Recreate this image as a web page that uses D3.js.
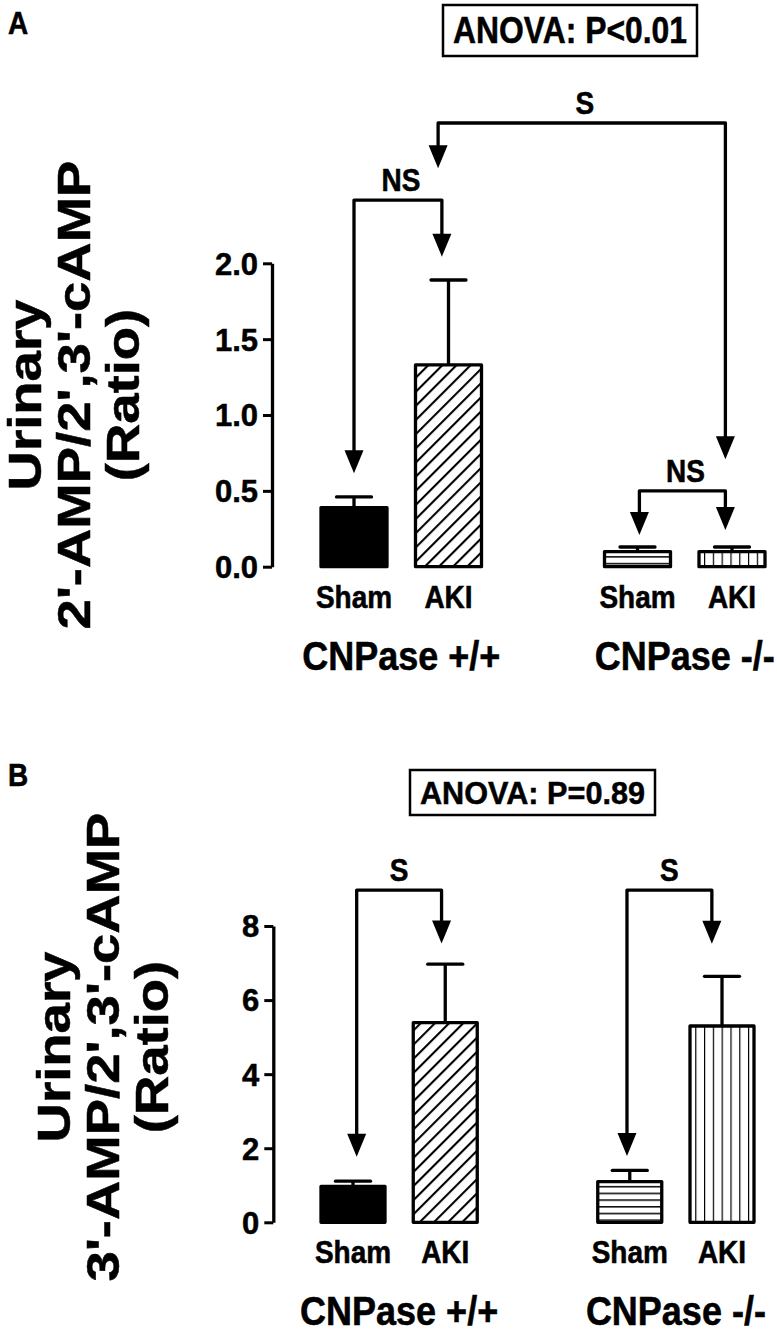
<!DOCTYPE html>
<html><head><meta charset="utf-8">
<script src="https://cdn.jsdelivr.net/npm/d3@7"></script>
<style>
body{margin:0;background:#fff}
text{font-family:"Liberation Sans",Arial,Helvetica,sans-serif;font-weight:bold;fill:#000;stroke:#000;stroke-width:0.5px}
</style>
</head><body>
<svg id="c" width="777" height="1334"></svg>
<script>
// ---------------- data ----------------
const categories = ["Sham", "AKI", "Sham", "AKI"];
const groups = ["CNPase +/+", "CNPase -/-"];
const slots = [0, 1, 3, 4];
const fills = ["solid", "diag", "horiz", "vert"];
const meanA = [0.39, 1.33, 0.10, 0.10];
const errA  = [0.07, 0.56, 0.03, 0.03];
const meanB = [0.97, 5.39, 1.10, 5.30];
const errB  = [0.14, 1.58, 0.30, 1.34];
const ticksA = [0, 0.5, 1.0, 1.5, 2.0];
const ticksB = [0, 2, 4, 6, 8];
const anovaA = "ANOVA: P<0.01";
const anovaB = "ANOVA: P=0.89";
const titleA = ["Urinary", "2'-AMP/2',3'-cAMP", "(Ratio)"];
const titleB = ["Urinary", "3'-AMP/2',3'-cAMP", "(Ratio)"];
// comparison brackets (slot positions, data-unit levels and arrow tips)
const compA = [
  {x1: 0.00, x2: 0.93, level: 2.417, t1: 0.616, t2: 2.044, label: "NS"},
  {x1: 0.89, x2: 3.93, level: 2.925, t1: 2.626, t2: 0.708, label: "S"},
  {x1: 3.02, x2: 3.93, level: 0.50,  t1: 0.209, t2: 0.242, label: "NS"}
];
const compB = [
  {x1: 0.04, x2: 0.96, level: 8.97, t1: 1.77, t2: 7.53, label: "S"},
  {x1: 2.97, x2: 3.89, level: 8.97, t1: 1.79, t2: 7.52, label: "S"}
];

// ---------------- drawing ----------------
const svg = d3.select("#c");
const defs = svg.append("defs");
const SW = 3.3;

function patterns(id) {
  const d = defs.append("pattern").attr("id", "diag" + id).attr("patternUnits", "userSpaceOnUse")
    .attr("width", 10).attr("height", 10).attr("patternTransform", "rotate(45)");
  d.append("rect").attr("width", 10).attr("height", 10).attr("fill", "#fff");
  d.append("line").attr("x1", 1).attr("x2", 1).attr("y1", 0).attr("y2", 10).attr("stroke", "#000").attr("stroke-width", 2.2);
  const h = defs.append("pattern").attr("id", "horiz" + id).attr("patternUnits", "userSpaceOnUse")
    .attr("width", 10).attr("height", 6.7);
  h.append("rect").attr("width", 10).attr("height", 6.7).attr("fill", "#fff");
  h.append("line").attr("x1", 0).attr("x2", 10).attr("y1", 0.8).attr("y2", 0.8).attr("stroke", "#000").attr("stroke-width", 1.5);
  const v = defs.append("pattern").attr("id", "vert" + id).attr("patternUnits", "userSpaceOnUse")
    .attr("width", 8.8).attr("height", 10);
  v.append("rect").attr("width", 8.8).attr("height", 10).attr("fill", "#fff");
  v.append("line").attr("x1", 0.6).attr("x2", 0.6).attr("y1", 0).attr("y2", 10).attr("stroke", "#000").attr("stroke-width", 1.2);
}

function drawPanel(cfg) {
  const g = svg.append("g");
  const y = d3.scaleLinear().domain(cfg.domain).range(cfg.yRange);
  const x = d3.scaleLinear().domain([0, 4]).range(cfg.xRange);
  patterns(cfg.id);

  // axis
  const ax = g.append("g").attr("transform", `translate(${cfg.axisX},0)`)
    .call(d3.axisLeft(y).tickValues(cfg.ticks).tickSize(9).tickSizeOuter(0).tickPadding(5).tickFormat(cfg.fmt));
  ax.select(".domain").attr("stroke", "#000").attr("stroke-width", SW);
  ax.selectAll(".tick line").attr("stroke", "#000").attr("stroke-width", 3);
  ax.selectAll(".tick text").attr("font-size", cfg.tickFont).attr("font-family", null)
    .attr("font-weight", "bold").attr("fill", "#000").attr("dy", "0.35em");

  const data = categories.map((c, i) => ({c, s: slots[i], m: cfg.mean[i], e: cfg.err[i], f: fills[i]}));

  // error bars
  g.selectAll(".eb").data(data).join("line")
    .attr("x1", d => x(d.s)).attr("x2", d => x(d.s))
    .attr("y1", d => y(d.m)).attr("y2", d => y(d.m + d.e))
    .attr("stroke", "#000").attr("stroke-width", SW);
  g.selectAll(".cap").data(data).join("line")
    .attr("x1", d => x(d.s) - 17.5).attr("x2", d => x(d.s) + 17.5)
    .attr("y1", d => y(d.m + d.e)).attr("y2", d => y(d.m + d.e))
    .attr("stroke", "#000").attr("stroke-width", SW).attr("stroke-linecap", "round");

  // bars
  g.selectAll(".bar").data(data).join("rect")
    .attr("x", d => x(d.s) - cfg.barW / 2).attr("width", cfg.barW)
    .attr("y", d => y(d.m)).attr("height", d => y(0) - y(d.m))
    .attr("fill", d => d.f === "solid" ? "#000" : `url(#${d.f}${cfg.id})`)
    .attr("stroke", "#000").attr("stroke-width", SW).attr("stroke-linejoin", "round");

  // category labels
  g.selectAll(".cat").data(data).join("text")
    .attr("transform", d => `translate(${x(d.s)},${y(0) + cfg.catDy}) scale(1,${cfg.sy})`)
    .attr("text-anchor", "middle").attr("font-size", cfg.catFont).text(d => d.c);
  g.selectAll(".grp").data(groups).join("text")
    .attr("transform", (d, i) => `translate(${x(i * 3 + 0.5)},${y(0) + cfg.grpDy}) scale(1,${cfg.sy})`)
    .attr("text-anchor", "middle").attr("font-size", cfg.grpFont).text(d => d);

  // brackets
  const hw = 9.5, hh = 23;
  cfg.comp.forEach(b => {
    const X1 = x(b.x1), X2 = x(b.x2), L = y(b.level), T1 = y(b.t1), T2 = y(b.t2);
    g.append("path")
      .attr("d", `M${X1},${T1 - hh + 1}L${X1},${L}L${X2},${L}L${X2},${T2 - hh + 1}`)
      .attr("fill", "none").attr("stroke", "#000").attr("stroke-width", SW).attr("stroke-linejoin", "round");
    [[X1, T1], [X2, T2]].forEach(([px, py]) => {
      g.append("path").attr("d", `M${px - hw},${py - hh}L${px + hw},${py - hh}L${px},${py}Z`).attr("fill", "#000");
    });
    g.append("text")
      .attr("transform", `translate(${(X1 + X2) / 2 + cfg.labDx},${L - cfg.labGap}) scale(1,${cfg.sy})`)
      .attr("text-anchor", "middle").attr("font-size", cfg.labFont).text(b.label);
  });

  // ANOVA box
  const bx = cfg.box;
  g.append("rect").attr("x", bx.x).attr("y", bx.y).attr("width", bx.w).attr("height", bx.h)
    .attr("fill", "#fff").attr("stroke", "#000").attr("stroke-width", 2.5);
  g.append("text").attr("x", bx.x + bx.w / 2).attr("y", bx.y + bx.h / 2 + bx.fs * 0.36)
    .attr("text-anchor", "middle").attr("font-size", bx.fs)
    .attr("textLength", bx.w - 20).attr("lengthAdjust", "spacingAndGlyphs").text(cfg.anova);

  // panel letter
  g.append("text").attr("transform", `translate(8,${cfg.letterY}) scale(1,1.15)`).attr("font-size", 28).text(cfg.letter);

  // y title
  const cy = cfg.titleY;
  cfg.title.forEach((t, i) => {
    g.append("text")
      .attr("transform", `translate(${cfg.titleX + i * cfg.titleStep},${cy}) rotate(-90) scale(${cfg.titleS},1)`)
      .attr("text-anchor", "middle").attr("font-size", cfg.titleFont).text(t);
  });
}

drawPanel({
  id: "A", letter: "A", letterY: 34, domain: [0, 2], yRange: [566.7, 263.3], xRange: [354, 732],
  axisX: 272, barW: 66, ticks: ticksA, fmt: d3.format(".1f"), tickFont: 31,
  mean: meanA, err: errA, comp: compA, anova: anovaA,
  box: {x: 443, y: 5, w: 254, h: 51, fs: 36},
  catDy: 41, grpDy: 103, catFont: 28, grpFont: 36, sy: 1.15,
  labFont: 28, labGap: 9, labDx: 3,
  title: titleA, titleX: 41, titleStep: 49, titleY: 395, titleFont: 47, titleS: 1.16
});
drawPanel({
  id: "B", letter: "B", letterY: 786, domain: [0, 8], yRange: [1222.3, 926], xRange: [353, 722],
  axisX: 273.3, barW: 64, ticks: ticksB, fmt: d3.format("d"), tickFont: 31,
  mean: meanB, err: errB, comp: compB, anova: anovaB,
  box: {x: 410, y: 770, w: 245, h: 45, fs: 32},
  catDy: 41, grpDy: 103, catFont: 28, grpFont: 36, sy: 1.15,
  labFont: 28, labGap: 9, labDx: 0,
  title: titleB, titleX: 70, titleStep: 49, titleY: 1047, titleFont: 47, titleS: 1.16
});
</script>
</body></html>
